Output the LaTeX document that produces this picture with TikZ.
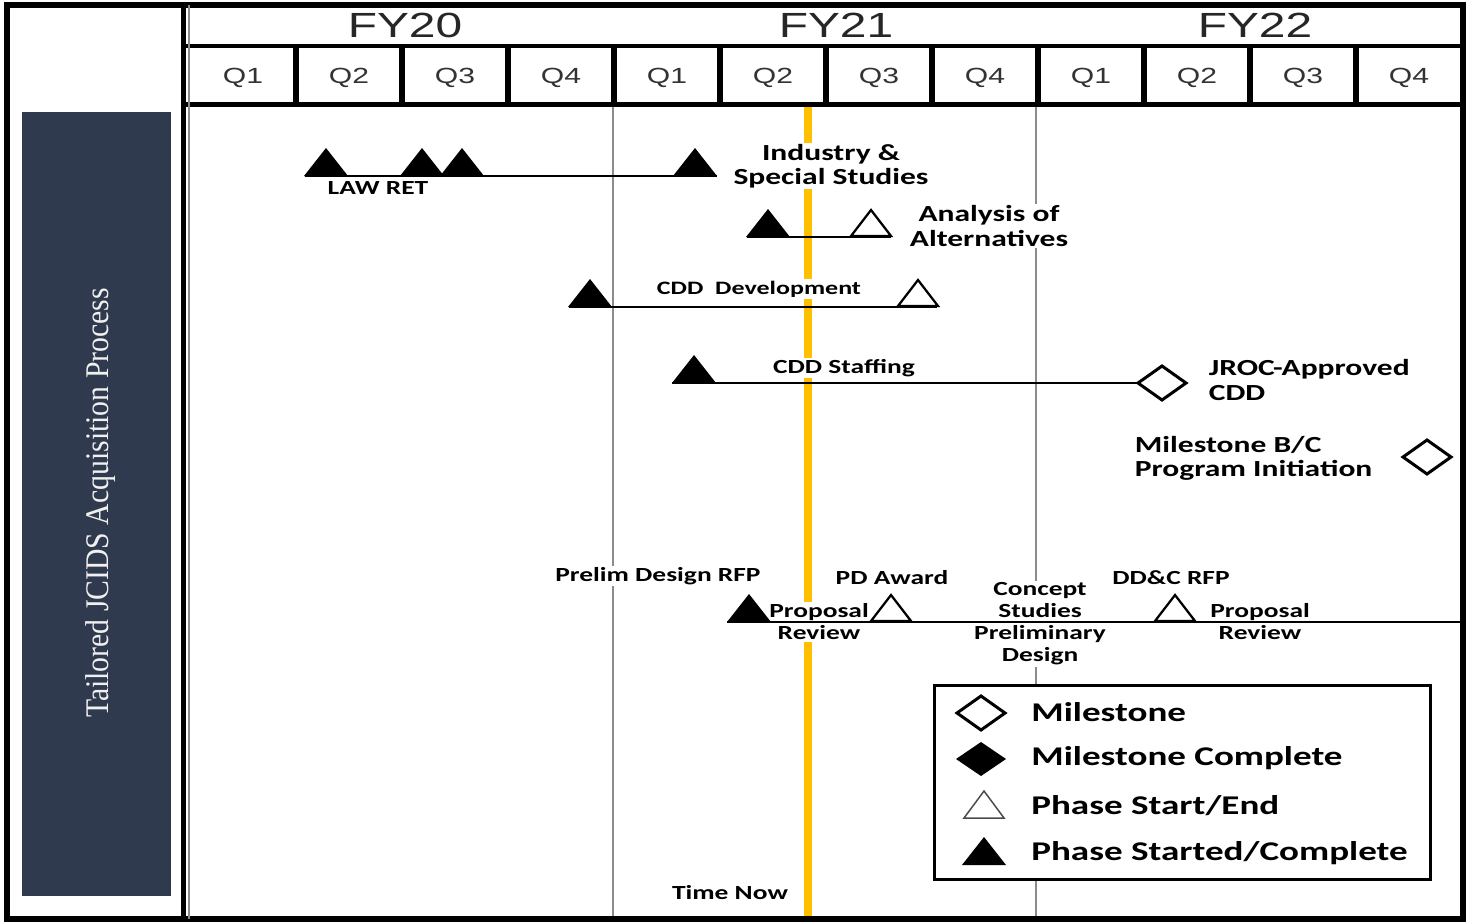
\documentclass[tikz,border=0pt]{standalone}
\usepackage{fontspec}
\setmainfont{Carlito}
\newfontfamily\lbl[FakeStretch=1.37]{Carlito}
\newfontfamily\hdr[FakeStretch=1.37]{Liberation Sans}
\newfontfamily\ttl[FakeStretch=0.9]{Liberation Serif}
\definecolor{panel}{HTML}{2F3A4E}
\definecolor{nowline}{HTML}{FFC000}
\definecolor{grid}{HTML}{8C8C8C}
\tikzset{
  frame/.style={line width=1.1mm, black},
  grid line/.style={grid, line width=0.4mm},
  phase/.style={black, line width=0.3mm},
  lab/.style={fill=white, inner sep=0.3mm, text=black, align=center,
    font=\lbl\bfseries\fontsize{11.4}{12.5}\selectfont},
  labL/.style={lab, font=\lbl\bfseries\fontsize{13.1}{13.7}\selectfont},
  labS/.style={lab, font=\lbl\bfseries\fontsize{10.8}{12}\selectfont},
  leglab/.style={anchor=west, inner sep=0, text=black,
    font=\lbl\bfseries\fontsize{15.4}{17}\selectfont},
  fy/.style={font=\hdr\fontsize{19.9}{22}\selectfont, text=black!85},
  qlab/.style={font=\hdr\fontsize{12.5}{14}\selectfont, text=black!80},
  ftri/.pic={\fill[black] (-22,0) -- (0,-28) -- (22,0) -- cycle;},
  otri/.pic={\draw[black, line width=0.45mm, fill=white, line join=miter] (-20,-1) -- (0,-27) -- (20,-1) -- cycle;},
  ltri/.pic={\draw[black!70, line width=0.3mm, fill=white] (-20,0) -- (0,-27) -- (20,0) -- cycle;},
  odia/.pic={\draw[black, line width=0.6mm, fill=white] (-24,0) -- (0,-17) -- (24,0) -- (0,17) -- cycle;},
  fdia/.pic={\fill[black] (-25,0) -- (0,-17) -- (25,0) -- (0,17) -- cycle;}
}
\begin{document}
\begin{tikzpicture}[x=0.02cm, y=-0.02cm]
\useasboundingbox (0,0) rectangle (1469,923);
\fill[white] (0,0) rectangle (1469,923);

% left panel
\fill[panel] (22,112) rectangle (171,896);
\node[rotate=90, anchor=base, text=white!88!gray, inner sep=0,
      font=\ttl\fontsize{18.8}{20}\selectfont] (title) at (108,503)
      {Tailored JCIDS Acquisition Process};

% grid lines
\draw[grid line] (613,104) -- (613,916);
\draw[grid line] (1036,104) -- (1036,916);
\fill[nowline] (804,104) rectangle (812,916);

% header
\draw[black, line width=0.8mm] (186,46) -- (1463,46);
\draw[black, line width=1mm] (186,104) -- (1463,104);
\foreach \i in {1,...,11} {
  \draw[black, line width=1.2mm] ({190+106*\i},46) -- ({190+106*\i},104);
}
\node[fy] (fy20) at (405,25) {FY20};
\node[fy] (fy21) at (836,25) {FY21};
\node[fy] (fy22) at (1255,25) {FY22};
\foreach \q [count=\i from 0] in {Q1,Q2,Q3,Q4,Q1,Q2,Q3,Q4,Q1,Q2,Q3,Q4} {
  \node[qlab] (q\i) at ({243+106*\i},78) {\q};
}

% frame
\draw[frame] (7,5) rectangle (1463,919);
\draw[black, line width=1mm] (183,5) -- (183,919);
\draw[grid, line width=0.3mm] (189,5) -- (189,919);

% labels
\node[lab] (lawret) at (378,188) {LAW RET};
\node[labL] (industry) at (831,166) {Industry \&\\Special Studies};
\node[labL] (aoa) at (989,226) {Analysis of\\Alternatives};
\node[labS] (cdddev) at (759,289) {CDD\ \ Development};
\node[lab] (cddstaff) at (844,368) {CDD Staffing};
\node[labL, anchor=west, align=left] (jroc) at (1207,380) {JROC-Approved\\CDD};
\node[labL, anchor=west, align=left] (msbc) at (1133,458) {Milestone B/C\\Program Initiation};
\node[lab] (prelim) at (658,576) {Prelim Design RFP};
\node[lab] (pdaward) at (892,578) {PD Award};
\node[lab] (prop1) at (819,622) {Proposal\\Review};
\node[lab] (concept) at (1040,624) {Concept\\Studies\\Preliminary\\Design};
\node[lab] (ddc) at (1171,578) {DD\&C RFP};
\node[lab] (prop2) at (1260,622) {Proposal\\Review};
\node[lab] (timenow) at (730,893) {Time Now};

% row 1
\coordinate (r1s) at (305,176);
\coordinate (r1e) at (717,176);
\draw[phase] (r1s) -- (r1e);
\pic at (326,176) {ftri};
\pic at (422,176) {ftri};
\pic at (462,176) {ftri};
\pic at (695,176) {ftri};

% row 2
\coordinate (r2s) at (747,237);
\coordinate (r2e) at (891,237);
\draw[phase] (r2s) -- (r2e);
\pic at (768,237) {ftri};
\pic at (871,237) {otri};

% row 3
\coordinate (r3s) at (569,307);
\coordinate (r3e) at (937,307);
\draw[phase] (r3s) -- (r3e);
\pic at (590,307) {ftri};
\pic at (918,307) {otri};

% row 4
\coordinate (r4s) at (672,383);
\coordinate (jrocd) at (1162,383);
\draw[phase] (r4s) -- (jrocd);
\pic at (694,383) {ftri};
\pic at (jrocd) {odia};

% row 5
\coordinate (msd) at (1427,457);
\pic at (msd) {odia};

% row 6
\coordinate (r6s) at (727,622);
\coordinate (r6e) at (1462,622);
\draw[phase] (r6s) -- (r6e);
\pic at (749,622) {ftri};
\pic at (891,622) {otri};
\pic at (1175,622) {otri};

% legend
\node[draw=black, line width=0.6mm, fill=white, minimum width=99.4mm,
      minimum height=39mm, inner sep=0] (legend) at (1182.5,782.5) {};
\pic at (981,713) {odia};
\pic at (981,759) {fdia};
\pic at (984,818) {ltri};
\pic at (984,865) {ftri};
\node[leglab] (lg1) at (1031,712) {Milestone};
\node[leglab] (lg2) at (1031,758) {Milestone Complete};
\node[leglab] (lg3) at (1031,806) {Phase Start/End};
\node[leglab] (lg4) at (1031,853) {Phase Started/Complete};
\end{tikzpicture}
\end{document}
